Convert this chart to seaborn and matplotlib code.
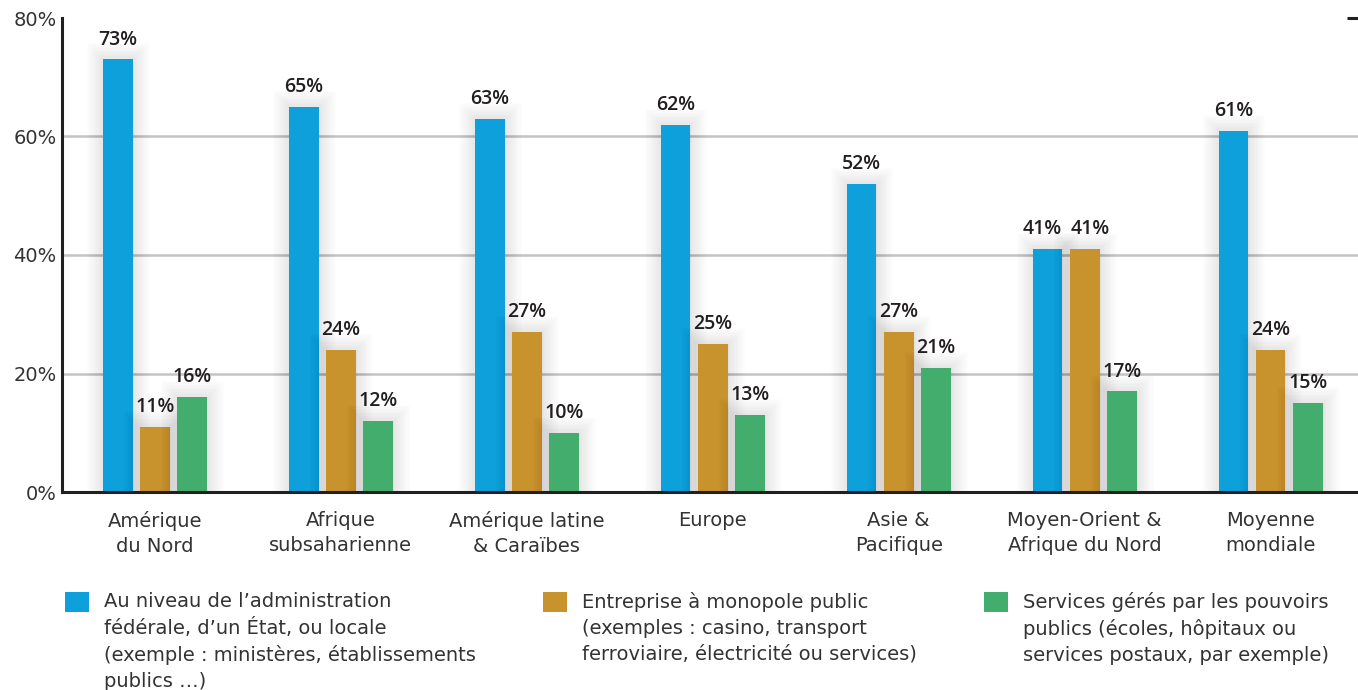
import matplotlib
matplotlib.use("Agg")
import matplotlib.pyplot as plt
import matplotlib.patheffects as pe
import seaborn as sns
import pandas as pd

# ---- data ----
regions = ["Amérique\ndu Nord", "Afrique\nsubsaharienne", "Amérique latine\n& Caraïbes",
           "Europe", "Asie &\nPacifique", "Moyen-Orient &\nAfrique du Nord", "Moyenne\nmondiale"]
series_names = [
    "Au niveau de l\u2019administration\nfédérale, d\u2019un État, ou locale\n(exemple : ministères, établissements\npublics \u2026)",
    "Entreprise à monopole public\n(exemples : casino, transport\nferroviaire, électricité ou services)",
    "Services gérés par les pouvoirs\npublics (écoles, hôpitaux ou\nservices postaux, par exemple)",
]
admin = [73, 65, 63, 62, 52, 41, 61]
monopole = [11, 24, 27, 25, 27, 41, 24]
services = [16, 12, 10, 13, 21, 17, 15]
y_ticks = [0, 20, 40, 60, 80]
y_tick_labels = ["0%", "20%", "40%", "60%", "80%"]
colors = ["#0DA0DB", "#C8922C", "#43AD6E"]

series_values = [admin, monopole, services]
rows = []
for name, vals in zip(series_names, series_values):
    for reg, v in zip(regions, vals):
        rows.append({"region": reg, "value": v, "type": name})
df = pd.DataFrame(rows)

# ---- style ----
sns.set_style("white")
plt.rcParams["font.family"] = ["DejaVu Sans"]
DARK = "#231F20"
TXT = "#333333"

W, H = 1358, 690
fig = plt.figure(figsize=(W / 100, H / 100), dpi=100)
ax = fig.add_axes([62 / W, 1 - 492 / H, (W - 62) / W, (492 - 18) / H])

sns.barplot(data=df, x="region", y="value", hue="type", order=regions,
            hue_order=series_names, palette=colors, width=0.6, gap=0.2,
            saturation=1, ax=ax, linewidth=0, zorder=3)

# soft shadow around bars
glow = [pe.Stroke(linewidth=lw, foreground="#000000", alpha=0.008)
        for lw in range(24, 1, -2)] + [pe.Normal()]
for cont in ax.containers:
    for p in cont.patches:
        p.set_path_effects(glow)

# value labels
all_labels = []
for cont, vals in zip(ax.containers, series_values):
    anns = ax.bar_label(cont, labels=[f"{v}%" for v in vals], padding=7,
                        fontsize=14, fontweight="semibold",
                        family=["Open Sans", "DejaVu Sans"], color=DARK, zorder=5)
    all_labels.append(anns)

# nudge apart labels of adjacent bars with equal heights (avoid overlap)
for s in range(len(series_values) - 1):
    for i in range(len(regions)):
        if series_values[s][i] == series_values[s + 1][i]:
            a, b = all_labels[s][i], all_labels[s + 1][i]
            a.xyann = (a.xyann[0] - 4, a.xyann[1])
            b.xyann = (b.xyann[0] + 4, b.xyann[1])

ax.set_xlim(-0.5, 6.47)
ax.set_ylim(0, 80)
ax.set_xlabel("")
ax.set_ylabel("")

# y axis
ax.set_yticks(y_ticks)
ax.set_yticklabels(y_tick_labels)
ax.tick_params(axis="y", which="major", direction="in", length=11, width=2.2,
               color=DARK, labelsize=14, labelcolor=TXT, pad=4, right=True)
ax.yaxis.grid(True, color="#C4C4C8", linewidth=1.8, zorder=0)
ax.set_axisbelow(True)
yticks = ax.yaxis.get_major_ticks()
for t in yticks[:-1]:
    t.tick1line.set_visible(False)
    t.tick2line.set_visible(False)
yticks[-1].gridline.set_visible(False)
yticks[-1].tick2line.set_markersize(8)

# x axis
ax.tick_params(axis="x", which="major", length=0, labelsize=14, labelcolor=TXT, pad=14)
ax.set_xticks([i + 0.5 for i in range(len(regions) - 1)], minor=True)
ax.tick_params(axis="x", which="minor", direction="in", length=9, width=2.2, color=DARK)
for lab in ax.get_xticklabels():
    lab.set_linespacing(1.35)

for s in ("top", "right"):
    ax.spines[s].set_visible(False)
for s in ("left", "bottom"):
    ax.spines[s].set_color(DARK)
    ax.spines[s].set_linewidth(2.2)
    ax.spines[s].set_zorder(6)

# legends
handles, labels = ax.get_legend_handles_labels()
if ax.get_legend() is not None:
    ax.get_legend().remove()
xs = [65, 543, 984]
for h, lab, x in zip(handles, labels, xs):
    leg = fig.legend([h], [lab], loc="upper left", bbox_to_anchor=(x / W, 1 - 592 / H),
                     frameon=False, borderpad=0, borderaxespad=0, handlelength=1.25,
                     handleheight=1.2, handletextpad=0.75, fontsize=14)
    for t in leg.get_texts():
        t.set_linespacing(1.45)
        t.set_color(TXT)
    for col in leg._legend_handle_box.get_children():
        for row in col.get_children():
            row.align = "top"

fig.savefig("out.png", dpi=100)
